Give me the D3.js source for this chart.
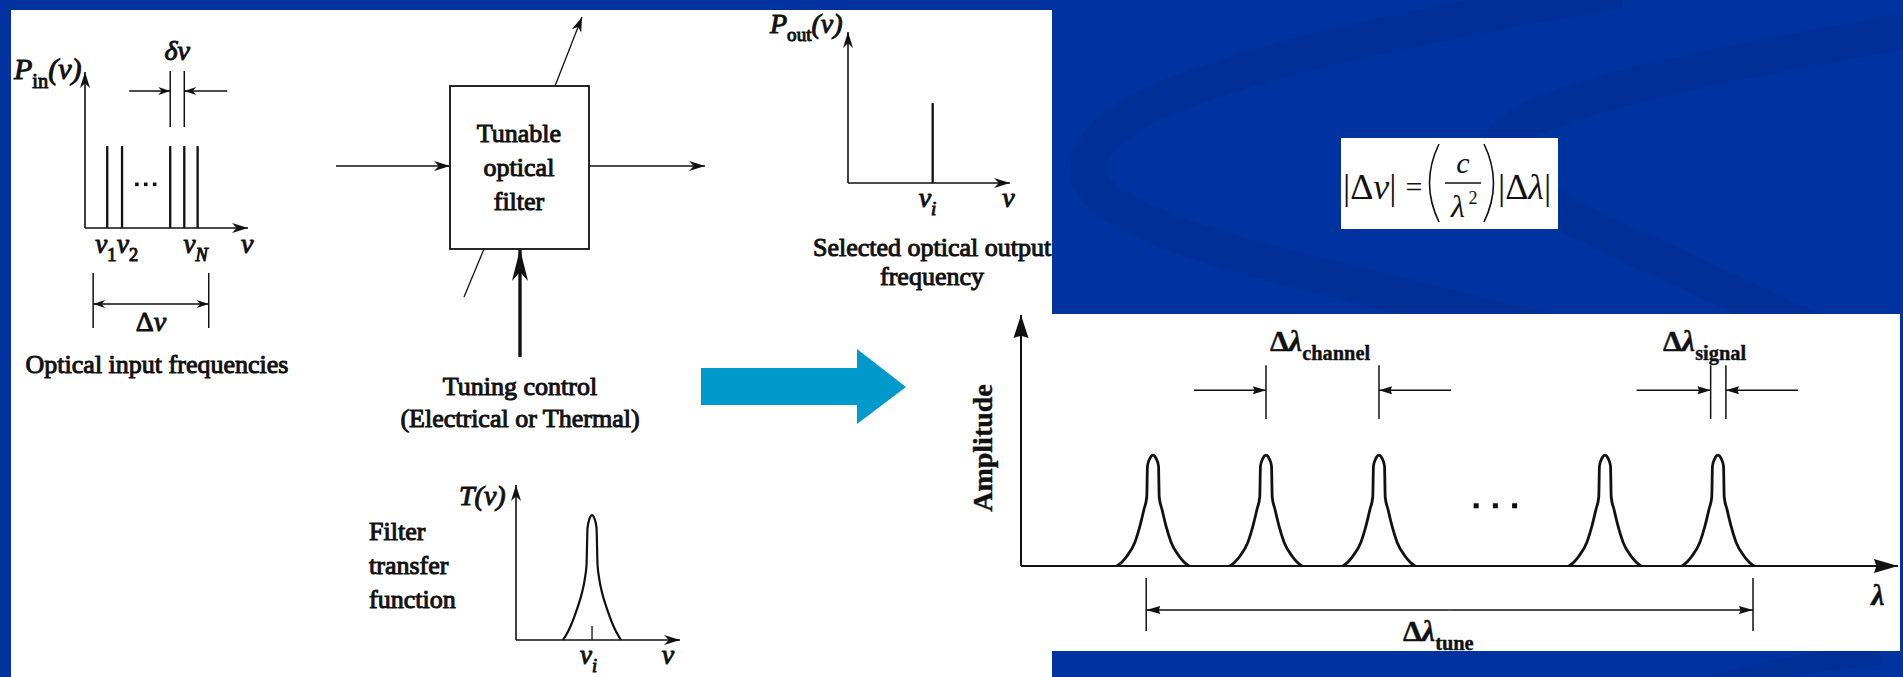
<!DOCTYPE html>
<html>
<head>
<meta charset="utf-8">
<script src="https://cdn.jsdelivr.net/npm/d3@7"></script>
<style>
html, body { margin: 0; padding: 0; background: #0033a0; overflow: hidden; }
svg { display: block; }
text { font-family: 'Liberation Serif', 'Times New Roman', Tinos, 'DejaVu Serif', serif; fill: #111; }
</style>
</head>
<body>
<svg></svg>
<script>
// ---- values ----
// input spectrum (frequency units, power units)
const inputLines = [1.5, 2.5, 5.75, 6.7, 7.6];
const inputLevel = 5.25;
const inputLabels = [{ nu: 1.5, sub: '1' }, { nu: 2.5, sub: '2' }, { nu: 7.6, sub: 'N' }];
const inputDots = [3.5, 4.1, 4.7];
const inputDotLevel = 2.8;
const deltaNuSpan = [0.55, 8.35];

// selected output
const outputLine = 5.75;
const outputLevel = 5.3;

// filter transfer function
const filterCenter = 5.1;
const filterProfile = [
	[-1.95, 0], [-1.74, 0.32], [-1.48, 0.81], [-1.21, 1.45], [-0.94, 2.18], [-0.67, 3.06],
	[-0.47, 4.03], [-0.37, 4.84], [-0.3, 7.25], [-0.17, 7.82], [0, 8.06],
	[0.17, 7.82], [0.3, 7.25], [0.37, 4.84], [0.47, 4.03], [0.67, 3.06], [0.94, 2.18],
	[1.21, 1.45], [1.48, 0.81], [1.74, 0.32], [1.95, 0]
];

// WDM channels (channel units, amplitude)
const channelPeaks = [1, 2, 3, 5, 6];
const channelDots = [3.86, 4.03, 4.2];
const channelDotLevel = 2.4;
const peakProfile = [
	[-0.319, 0], [-0.274, 0.16], [-0.23, 0.4], [-0.16, 0.95], [-0.115, 1.6], [-0.08, 2.25],
	[-0.055, 2.75], [-0.049, 3.98], [-0.027, 4.29], [0, 4.42],
	[0.027, 4.29], [0.049, 3.98], [0.055, 2.75], [0.08, 2.25], [0.115, 1.6], [0.16, 0.95],
	[0.23, 0.4], [0.274, 0.16], [0.319, 0]
];
const channelSpan = [2, 3];
const signalSpan = [5.935, 6.07];
const tuneSpan = [0.94, 6.31];

const ink = '#111';
// label nudges for the crowded ν1 ν2 … νN row
const nuLabelShift = { '1': -12, '2': -5, 'N': -14 };

const svg = d3.select('svg')
	.attr('width', 1903)
	.attr('height', 677);

// ---- background ----
svg.append('rect')
	.attr('width', 1903).attr('height', 677)
	.attr('fill', '#0033a0');

const swoosh = svg.append('g')
	.attr('fill', 'none')
	.attr('stroke', '#002a8c')
	.attr('stroke-opacity', 0.4)
	.attr('stroke-width', 36);
swoosh.append('path')
	.attr('d', 'M1620,-10 C1330,40 1085,95 1088,170 C1092,235 1320,272 1540,330');
swoosh.append('path')
	.attr('d', 'M1920,28 C1740,62 1505,100 1498,150 C1492,195 1660,255 1810,330');
swoosh.append('path')
	.attr('d', 'M1700,690 C1760,670 1820,660 1880,655')
	.attr('stroke-width', 20);

svg.append('rect')
	.attr('x', 11).attr('y', 10)
	.attr('width', 1041).attr('height', 667)
	.attr('fill', '#fff');
svg.append('rect')
	.attr('x', 1052).attr('y', 314)
	.attr('width', 848).attr('height', 337)
	.attr('fill', '#fff');

svg.append('defs').append('clipPath')
	.attr('id', 'leftClip')
	.append('rect')
	.attr('x', 11).attr('y', 10)
	.attr('width', 1041).attr('height', 667);

// ---- helpers ----
function head(g, x, y, ang, len, wid, notch) {
	const c = Math.cos(ang), s = Math.sin(ang);
	const bx = x - c * len, by = y - s * len;
	const nx = -s * wid / 2, ny = c * wid / 2;
	const mx = x - c * len * (1 - notch), my = y - s * len * (1 - notch);
	g.append('path')
		.attr('d', `M${x},${y}L${bx + nx},${by + ny}L${mx},${my}L${bx - nx},${by - ny}Z`)
		.attr('fill', ink);
}

function line(g, x1, y1, x2, y2, w) {
	return g.append('line')
		.attr('x1', x1).attr('y1', y1)
		.attr('x2', x2).attr('y2', y2)
		.attr('stroke', ink)
		.attr('stroke-width', w || 1.6);
}

function arrow(g, x1, y1, x2, y2, len, wid, notch, w) {
	line(g, x1, y1, x2, y2, w);
	head(g, x2, y2, Math.atan2(y2 - y1, x2 - x1), len, wid, notch);
}

function label(g, x, y, parts, size, anchor, bold) {
	const t = g.append('text')
		.attr('x', x).attr('y', y)
		.attr('font-size', size)
		.attr('text-anchor', anchor || 'start')
		.attr('font-weight', bold ? 'bold' : null)
		.attr('stroke', ink)
		.attr('stroke-width', bold ? 0.4 : 1);
	let shift = 0;
	parts.forEach(p => {
		const want = p.sub ? size * 0.3 : (p.sup ? -size * 0.38 : 0);
		t.append('tspan')
			.text(p.t)
			.attr('font-style', p.it ? 'italic' : null)
			.attr('font-size', (p.sub || p.sup) ? size * 0.68 : size)
			.attr('dy', want - shift);
		shift = want;
	});
	return t;
}

function para(g, x, y, lines, size, gap, anchor) {
	lines.forEach((s, i) => label(g, x, y + i * gap, [{ t: s }], size, anchor));
}

const left = svg.append('g').attr('clip-path', 'url(#leftClip)');

// ---- panel A: input spectrum ----
const xA = d3.scaleLinear().domain([0, 11]).range([85, 248]);
const yA = d3.scaleLinear().domain([0, 10]).range([228, 72]);
const gA = left.append('g');

arrow(gA, xA(0), yA(0), xA(0), yA(10), 16, 10, 0.3);
arrow(gA, xA(0), yA(0), xA(11), yA(0), 16, 10, 0.3);

gA.selectAll('line.chan')
	.data(inputLines)
	.enter().append('line')
	.attr('class', 'chan')
	.attr('x1', d => xA(d)).attr('x2', d => xA(d))
	.attr('y1', yA(0)).attr('y2', yA(inputLevel))
	.attr('stroke', ink)
	.attr('stroke-width', 2.3);

gA.selectAll('rect.dot')
	.data(inputDots)
	.enter().append('rect')
	.attr('class', 'dot')
	.attr('x', d => xA(d) - 1.8)
	.attr('y', yA(inputDotLevel) - 1.8)
	.attr('width', 3.6).attr('height', 3.6)
	.attr('fill', ink);

inputLabels.forEach(d => {
	label(gA, xA(d.nu) + nuLabelShift[d.sub], 253,
		[{ t: 'ν', it: true }, { t: d.sub, sub: true, it: d.sub === 'N' }], 27);
});
label(gA, xA(10.95), 253, [{ t: 'ν', it: true }], 28, 'middle');

// δν bracket
const dn = [inputLines[2], inputLines[3]];
dn.forEach(v => line(gA, xA(v), yA(6.47), xA(v), yA(10.06), 1.5));
arrow(gA, xA(dn[0]) - 41, yA(8.78), xA(dn[0]), yA(8.78), 12, 8, 0.3, 1.5);
arrow(gA, xA(dn[1]) + 43, yA(8.78), xA(dn[1]), yA(8.78), 12, 8, 0.3, 1.5);
label(gA, (xA(dn[0]) + xA(dn[1])) / 2, 60, [{ t: 'δν', it: true }], 28, 'middle');

// Δν bracket
deltaNuSpan.forEach(v => line(gA, xA(v), yA(-2.88), xA(v), yA(-6.41), 1.5));
arrow(gA, xA(d3.mean(deltaNuSpan)), yA(-4.87), xA(deltaNuSpan[0]), yA(-4.87), 12, 8, 0.3, 1.5);
arrow(gA, xA(d3.mean(deltaNuSpan)), yA(-4.87), xA(deltaNuSpan[1]), yA(-4.87), 12, 8, 0.3, 1.5);
label(gA, xA(d3.mean(deltaNuSpan)), 331, [{ t: 'Δ' }, { t: 'ν', it: true }], 28, 'middle');

label(gA, 14, 79, [{ t: 'P', it: true }, { t: 'in', sub: true }, { t: '(ν)', it: true }], 30);
label(gA, 157, 373, [{ t: 'Optical input frequencies' }], 26, 'middle');

// ---- panel B: tunable filter block ----
const gB = left.append('g');
gB.append('rect')
	.attr('x', 450).attr('y', 86)
	.attr('width', 139).attr('height', 163)
	.attr('fill', 'none')
	.attr('stroke', ink)
	.attr('stroke-width', 1.8);
para(gB, 519, 142, ['Tunable', 'optical', 'filter'], 26, 34, 'middle');
arrow(gB, 336, 166, 450, 166, 16, 10, 0.3);
arrow(gB, 589, 166, 705, 166, 16, 10, 0.3);
arrow(gB, 555, 86, 582, 17, 15, 10, 0.3, 1.3);
line(gB, 484, 249, 464, 297, 1.3);
arrow(gB, 520, 357, 520, 249, 32, 16, 0.28, 3.4);
para(gB, 520, 395, ['Tuning control', '(Electrical or Thermal)'], 26, 32, 'middle');

// ---- panel C: selected output ----
const xC = d3.scaleLinear().domain([0, 11]).range([848, 1010]);
const yC = d3.scaleLinear().domain([0, 10]).range([183, 32]);
const gC = left.append('g');
arrow(gC, xC(0), yC(0), xC(0), yC(10), 16, 10, 0.3);
arrow(gC, xC(0), yC(0), xC(11), yC(0), 16, 10, 0.3);
gC.append('line')
	.datum(outputLine)
	.attr('x1', d => xC(d)).attr('x2', d => xC(d))
	.attr('y1', yC(0)).attr('y2', yC(outputLevel))
	.attr('stroke', ink)
	.attr('stroke-width', 2.3);
label(gC, xC(outputLine) - 14, 207, [{ t: 'ν', it: true }, { t: 'i', sub: true, it: true }], 28);
label(gC, xC(10.9), 207, [{ t: 'ν', it: true }], 28, 'middle');
label(gC, 770, 33, [{ t: 'P', it: true }, { t: 'out', sub: true }, { t: '(ν)', it: true }], 28);
label(gC, 813, 256, [{ t: 'Selected optical output' }], 26);
label(gC, 932, 285, [{ t: 'frequency' }], 26, 'middle');

// ---- panel D: filter transfer function ----
const xD = d3.scaleLinear().domain([0, 11]).range([516, 680]);
const yD = d3.scaleLinear().domain([0, 10]).range([640, 485]);
const gD = left.append('g');
arrow(gD, xD(0), yD(0), xD(0), yD(10), 16, 10, 0.3);
arrow(gD, xD(0), yD(0), xD(11), yD(0), 16, 10, 0.3);
gD.append('path')
	.datum(filterProfile)
	.attr('d', d3.line()
		.x(d => xD(filterCenter + d[0]))
		.y(d => yD(d[1]))
		.curve(d3.curveMonotoneX))
	.attr('fill', 'none')
	.attr('stroke', ink)
	.attr('stroke-width', 2.2);
line(gD, xD(filterCenter), yD(0), xD(filterCenter), yD(0.9), 1.3);
label(gD, xD(filterCenter) - 12, 664, [{ t: 'ν', it: true }, { t: 'i', sub: true, it: true }], 27);
label(gD, xD(10.2), 664, [{ t: 'ν', it: true }], 28, 'middle');
label(gD, 459, 505, [{ t: 'T', it: true }, { t: '(ν)', it: true }], 28);
para(gD, 369, 540, ['Filter', 'transfer', 'function'], 26, 34);

// ---- big blue arrow ----
svg.append('path')
	.attr('d', 'M701,368 L857,368 L857,349 L906,387 L857,424 L857,405 L701,405 Z')
	.attr('fill', '#0099cc');

// ---- formula ----
const gF = svg.append('g');
gF.append('rect')
	.attr('x', 1341).attr('y', 138)
	.attr('width', 217).attr('height', 91)
	.attr('fill', '#fff');
const fText = (x, y, parts, size, anchor) => {
	const t = gF.append('text').attr('x', x).attr('y', y)
		.attr('font-size', size).attr('text-anchor', anchor || 'start');
	parts.forEach(p => t.append('tspan').text(p.t).attr('font-style', p.it ? 'italic' : null));
	return t;
};
fText(1343, 199, [{ t: '|Δ' }, { t: 'ν', it: true }, { t: '|' }], 36);
fText(1414, 197, [{ t: '=' }], 30, 'middle');
fText(1463, 173, [{ t: 'c', it: true }], 30, 'middle');
fText(1458, 217, [{ t: 'λ', it: true }], 32, 'middle');
fText(1473, 204, [{ t: '2' }], 18, 'middle');
fText(1498, 199, [{ t: '|Δ' }, { t: 'λ', it: true }, { t: '|' }], 36);
line(gF, 1445, 183, 1481, 183, 1.3);
gF.append('path').attr('d', 'M1439,144 Q1420,183 1439,222')
	.attr('fill', 'none').attr('stroke', ink).attr('stroke-width', 1.6);
gF.append('path').attr('d', 'M1484,144 Q1503,183 1484,222')
	.attr('fill', 'none').attr('stroke', ink).attr('stroke-width', 1.6);

// ---- panel E: WDM channels ----
const xE = d3.scaleLinear().domain([-0.168, 7.593]).range([1021, 1898]);
const yE = d3.scaleLinear().domain([0, 10]).range([566, 315]);
const gE = svg.append('g');
arrow(gE, xE(-0.168), yE(0), xE(-0.168), yE(10), 23, 15, 0.1, 2);
arrow(gE, xE(-0.168), yE(0), xE(7.593), yE(0), 24, 14, 0.1, 2);

const peakLine = d3.line()
	.x(d => d[0])
	.y(d => yE(d[1]))
	.curve(d3.curveMonotoneX);
gE.selectAll('path.peak')
	.data(channelPeaks)
	.enter().append('path')
	.attr('class', 'peak')
	.attr('d', c => peakLine(peakProfile.map(p => [xE(c + p[0]), p[1]])))
	.attr('fill', 'none')
	.attr('stroke', ink)
	.attr('stroke-width', 2.8);

gE.selectAll('rect.dot')
	.data(channelDots)
	.enter().append('rect')
	.attr('class', 'dot')
	.attr('x', d => xE(d) - 2.5)
	.attr('y', yE(channelDotLevel) - 2.5)
	.attr('width', 5).attr('height', 5)
	.attr('fill', ink);

// Δλ channel
channelSpan.forEach(v => line(gE, xE(v), yE(5.86), xE(v), yE(8.0), 1.5));
arrow(gE, xE(channelSpan[0]) - 72, yE(7), xE(channelSpan[0]), yE(7), 13, 8, 0.1, 1.5);
arrow(gE, xE(channelSpan[1]) + 72, yE(7), xE(channelSpan[1]), yE(7), 13, 8, 0.1, 1.5);
label(gE, 1270, 351, [{ t: 'Δ' }, { t: 'λ', it: true }, { t: 'channel', sub: true }], 30, 'start', true);

// Δλ signal
signalSpan.forEach(v => line(gE, xE(v), yE(5.86), xE(v), yE(8.0), 1.5));
arrow(gE, xE(signalSpan[0]) - 74, yE(7), xE(signalSpan[0]), yE(7), 13, 8, 0.1, 1.5);
arrow(gE, xE(signalSpan[1]) + 72, yE(7), xE(signalSpan[1]), yE(7), 13, 8, 0.1, 1.5);
label(gE, 1663, 351, [{ t: 'Δ' }, { t: 'λ', it: true }, { t: 'signal', sub: true }], 30, 'start', true);

// Δλ tune
tuneSpan.forEach(v => line(gE, xE(v), yE(-0.48), xE(v), yE(-2.59), 1.5));
arrow(gE, xE(d3.mean(tuneSpan)), yE(-1.75), xE(tuneSpan[0]), yE(-1.75), 14, 8, 0.1, 1.5);
arrow(gE, xE(d3.mean(tuneSpan)), yE(-1.75), xE(tuneSpan[1]), yE(-1.75), 14, 8, 0.1, 1.5);
label(gE, 1403, 641, [{ t: 'Δ' }, { t: 'λ', it: true }, { t: 'tune', sub: true }], 30, 'start', true);

label(gE, 1878, 605, [{ t: 'λ', it: true }], 30, 'middle', true);
label(gE, 0, 0, [{ t: 'Amplitude' }], 28, 'middle', true)
	.attr('transform', 'translate(992,448) rotate(-90)');
</script>
</body>
</html>
